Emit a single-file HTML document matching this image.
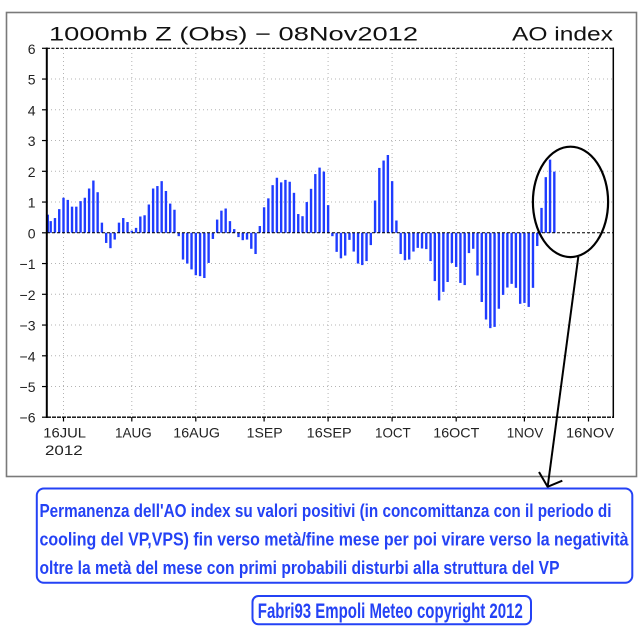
<!DOCTYPE html>
<html><head><meta charset="utf-8"><style>
html,body{margin:0;padding:0;background:#fff;}
svg{display:block;}
</style></head><body>
<svg width="640" height="631" viewBox="0 0 640 631" xmlns="http://www.w3.org/2000/svg">
<rect x="0" y="0" width="640" height="631" fill="#fff"/>
<!-- outer frame -->
<rect x="6.5" y="12.5" width="630" height="464" fill="none" stroke="#7a7a7a" stroke-width="1.6"/>

<!-- grid -->
<g stroke="#b4b4b4" stroke-width="1" stroke-dasharray="1,3" fill="none">
<line x1="47" y1="79.05" x2="613" y2="79.05"/>
<line x1="47" y1="109.8" x2="613" y2="109.8"/>
<line x1="47" y1="140.55" x2="613" y2="140.55"/>
<line x1="47" y1="171.3" x2="613" y2="171.3"/>
<line x1="47" y1="202.05" x2="613" y2="202.05"/>
<line x1="47" y1="263.55" x2="613" y2="263.55"/>
<line x1="47" y1="294.3" x2="613" y2="294.3"/>
<line x1="47" y1="325.05" x2="613" y2="325.05"/>
<line x1="47" y1="355.8" x2="613" y2="355.8"/>
<line x1="47" y1="386.55" x2="613" y2="386.55"/>
<line x1="63.5" y1="49" x2="63.5" y2="417"/>
<line x1="131.8" y1="49" x2="131.8" y2="417"/>
<line x1="195.8" y1="49" x2="195.8" y2="417"/>
<line x1="264.1" y1="49" x2="264.1" y2="417"/>
<line x1="328.1" y1="49" x2="328.1" y2="417"/>
<line x1="392.1" y1="49" x2="392.1" y2="417"/>
<line x1="456.2" y1="49" x2="456.2" y2="417"/>
<line x1="524.4" y1="49" x2="524.4" y2="417"/>
<line x1="588.5" y1="49" x2="588.5" y2="417"/>
</g>

<!-- bars -->
<g transform="translate(63.5,232.8) scale(4.268,-30.75)" fill="#1f3cff">
<rect x="-3.9" y="0" width="0.5" height="0.59"/>
<rect x="-3.28" y="0" width="0.56" height="0.38"/>
<rect x="-2.28" y="0" width="0.56" height="0.48"/>
<rect x="-1.28" y="0" width="0.56" height="0.77"/>
<rect x="-0.28" y="0" width="0.56" height="1.14"/>
<rect x="0.72" y="0" width="0.56" height="1.07"/>
<rect x="1.72" y="0" width="0.56" height="0.85"/>
<rect x="2.72" y="0" width="0.56" height="0.85"/>
<rect x="3.72" y="0" width="0.56" height="1.03"/>
<rect x="4.72" y="0" width="0.56" height="1.14"/>
<rect x="5.72" y="0" width="0.56" height="1.44"/>
<rect x="6.72" y="0" width="0.56" height="1.70"/>
<rect x="7.72" y="0" width="0.56" height="1.32"/>
<rect x="8.72" y="0" width="0.56" height="0.33"/>
<rect x="9.72" y="-0.33" width="0.56" height="0.33"/>
<rect x="10.72" y="-0.50" width="0.56" height="0.50"/>
<rect x="11.72" y="-0.22" width="0.56" height="0.22"/>
<rect x="12.72" y="0" width="0.56" height="0.33"/>
<rect x="13.72" y="0" width="0.56" height="0.48"/>
<rect x="14.72" y="0" width="0.56" height="0.35"/>
<rect x="15.72" y="0" width="0.56" height="0.07"/>
<rect x="16.72" y="0" width="0.56" height="0.16"/>
<rect x="17.72" y="0" width="0.56" height="0.53"/>
<rect x="18.72" y="0" width="0.56" height="0.57"/>
<rect x="19.72" y="0" width="0.56" height="0.92"/>
<rect x="20.72" y="0" width="0.56" height="1.44"/>
<rect x="21.72" y="0" width="0.56" height="1.52"/>
<rect x="22.72" y="0" width="0.56" height="1.68"/>
<rect x="23.72" y="0" width="0.56" height="1.36"/>
<rect x="24.72" y="0" width="0.56" height="0.95"/>
<rect x="25.72" y="0" width="0.56" height="0.75"/>
<rect x="26.72" y="-0.11" width="0.56" height="0.11"/>
<rect x="27.72" y="-0.87" width="0.56" height="0.87"/>
<rect x="28.72" y="-1.00" width="0.56" height="1.00"/>
<rect x="29.72" y="-1.19" width="0.56" height="1.19"/>
<rect x="30.72" y="-1.38" width="0.56" height="1.38"/>
<rect x="31.72" y="-1.41" width="0.56" height="1.41"/>
<rect x="32.72" y="-1.47" width="0.56" height="1.47"/>
<rect x="33.72" y="-0.98" width="0.56" height="0.98"/>
<rect x="34.72" y="-0.20" width="0.56" height="0.20"/>
<rect x="35.72" y="0" width="0.56" height="0.43"/>
<rect x="36.72" y="0" width="0.56" height="0.72"/>
<rect x="37.72" y="0" width="0.56" height="0.79"/>
<rect x="38.72" y="0" width="0.56" height="0.38"/>
<rect x="39.72" y="0" width="0.56" height="0.12"/>
<rect x="40.72" y="-0.14" width="0.56" height="0.14"/>
<rect x="41.72" y="-0.24" width="0.56" height="0.24"/>
<rect x="42.72" y="-0.22" width="0.56" height="0.22"/>
<rect x="43.72" y="-0.52" width="0.56" height="0.52"/>
<rect x="44.72" y="-0.69" width="0.56" height="0.69"/>
<rect x="45.72" y="0" width="0.56" height="0.22"/>
<rect x="46.72" y="0" width="0.56" height="0.83"/>
<rect x="47.72" y="0" width="0.56" height="1.12"/>
<rect x="48.72" y="0" width="0.56" height="1.55"/>
<rect x="49.72" y="0" width="0.56" height="1.79"/>
<rect x="50.72" y="0" width="0.56" height="1.64"/>
<rect x="51.72" y="0" width="0.56" height="1.72"/>
<rect x="52.72" y="0" width="0.56" height="1.66"/>
<rect x="53.72" y="0" width="0.56" height="1.30"/>
<rect x="54.72" y="0" width="0.56" height="0.61"/>
<rect x="55.72" y="0" width="0.56" height="0.54"/>
<rect x="56.72" y="0" width="0.56" height="1.00"/>
<rect x="57.72" y="0" width="0.56" height="1.43"/>
<rect x="58.72" y="0" width="0.56" height="1.91"/>
<rect x="59.72" y="0" width="0.56" height="2.12"/>
<rect x="60.72" y="0" width="0.56" height="1.99"/>
<rect x="61.72" y="0" width="0.56" height="0.90"/>
<rect x="62.72" y="-0.11" width="0.56" height="0.11"/>
<rect x="63.72" y="-0.62" width="0.56" height="0.62"/>
<rect x="64.72" y="-0.83" width="0.56" height="0.83"/>
<rect x="65.72" y="-0.74" width="0.56" height="0.74"/>
<rect x="66.72" y="-0.23" width="0.56" height="0.23"/>
<rect x="67.72" y="-0.61" width="0.56" height="0.61"/>
<rect x="68.72" y="-1.00" width="0.56" height="1.00"/>
<rect x="69.72" y="-1.05" width="0.56" height="1.05"/>
<rect x="70.72" y="-0.92" width="0.56" height="0.92"/>
<rect x="71.72" y="-0.40" width="0.56" height="0.40"/>
<rect x="72.72" y="0" width="0.56" height="1.05"/>
<rect x="73.72" y="0" width="0.56" height="2.11"/>
<rect x="74.72" y="0" width="0.56" height="2.35"/>
<rect x="75.72" y="0" width="0.56" height="2.53"/>
<rect x="76.72" y="0" width="0.56" height="1.68"/>
<rect x="77.72" y="0" width="0.56" height="0.40"/>
<rect x="78.72" y="-0.69" width="0.56" height="0.69"/>
<rect x="79.72" y="-0.89" width="0.56" height="0.89"/>
<rect x="80.72" y="-0.87" width="0.56" height="0.87"/>
<rect x="81.72" y="-0.61" width="0.56" height="0.61"/>
<rect x="82.72" y="-0.49" width="0.56" height="0.49"/>
<rect x="83.72" y="-0.51" width="0.56" height="0.51"/>
<rect x="84.72" y="-0.53" width="0.56" height="0.53"/>
<rect x="85.72" y="-0.92" width="0.56" height="0.92"/>
<rect x="86.72" y="-1.57" width="0.56" height="1.57"/>
<rect x="87.72" y="-2.20" width="0.56" height="2.20"/>
<rect x="88.72" y="-1.92" width="0.56" height="1.92"/>
<rect x="89.72" y="-1.60" width="0.56" height="1.60"/>
<rect x="90.72" y="-0.98" width="0.56" height="0.98"/>
<rect x="91.72" y="-1.11" width="0.56" height="1.11"/>
<rect x="92.72" y="-1.63" width="0.56" height="1.63"/>
<rect x="93.72" y="-1.70" width="0.56" height="1.70"/>
<rect x="94.72" y="-0.66" width="0.56" height="0.66"/>
<rect x="95.72" y="-0.52" width="0.56" height="0.52"/>
<rect x="96.72" y="-1.39" width="0.56" height="1.39"/>
<rect x="97.72" y="-2.25" width="0.56" height="2.25"/>
<rect x="98.72" y="-2.82" width="0.56" height="2.82"/>
<rect x="99.72" y="-3.10" width="0.56" height="3.10"/>
<rect x="100.72" y="-3.06" width="0.56" height="3.06"/>
<rect x="101.72" y="-2.47" width="0.56" height="2.47"/>
<rect x="102.72" y="-2.02" width="0.56" height="2.02"/>
<rect x="103.72" y="-1.78" width="0.56" height="1.78"/>
<rect x="104.72" y="-1.66" width="0.56" height="1.66"/>
<rect x="105.72" y="-1.79" width="0.56" height="1.79"/>
<rect x="106.72" y="-2.31" width="0.56" height="2.31"/>
<rect x="107.72" y="-2.28" width="0.56" height="2.28"/>
<rect x="108.72" y="-2.41" width="0.56" height="2.41"/>
<rect x="109.72" y="-1.79" width="0.56" height="1.79"/>
<rect x="110.72" y="-0.43" width="0.56" height="0.43"/>
<rect x="111.72" y="0" width="0.56" height="0.81"/>
<rect x="112.72" y="0" width="0.56" height="1.81"/>
<rect x="113.72" y="0" width="0.56" height="2.38"/>
<rect x="114.72" y="0" width="0.56" height="1.99"/>
</g>

<!-- axes / borders -->
<line x1="47" y1="232.8" x2="613" y2="232.8" stroke="#000" stroke-width="1" stroke-dasharray="3,2"/>
<line x1="47" y1="48.3" x2="613" y2="48.3" stroke="#000" stroke-width="1.2" stroke-dasharray="3,1.5"/>
<line x1="47" y1="417.2" x2="613" y2="417.2" stroke="#000" stroke-width="1.3" stroke-dasharray="4,1"/>
<line x1="46.8" y1="47.5" x2="46.8" y2="418" stroke="#000" stroke-width="2"/>
<line x1="613.3" y1="47.5" x2="613.3" y2="418" stroke="#000" stroke-width="1.5"/>
<g stroke="#000" stroke-width="1.2">
<line x1="42" y1="48.3" x2="47" y2="48.3"/>
<line x1="42" y1="79.05" x2="47" y2="79.05"/>
<line x1="42" y1="109.8" x2="47" y2="109.8"/>
<line x1="42" y1="140.55" x2="47" y2="140.55"/>
<line x1="42" y1="171.3" x2="47" y2="171.3"/>
<line x1="42" y1="202.05" x2="47" y2="202.05"/>
<line x1="42" y1="232.8" x2="47" y2="232.8"/>
<line x1="42" y1="263.55" x2="47" y2="263.55"/>
<line x1="42" y1="294.3" x2="47" y2="294.3"/>
<line x1="42" y1="325.05" x2="47" y2="325.05"/>
<line x1="42" y1="355.8" x2="47" y2="355.8"/>
<line x1="42" y1="386.55" x2="47" y2="386.55"/>
<line x1="42" y1="417.2" x2="47" y2="417.2"/>
<line x1="63.5" y1="417" x2="63.5" y2="421.5"/>
<line x1="131.8" y1="417" x2="131.8" y2="421.5"/>
<line x1="195.8" y1="417" x2="195.8" y2="421.5"/>
<line x1="264.1" y1="417" x2="264.1" y2="421.5"/>
<line x1="328.1" y1="417" x2="328.1" y2="421.5"/>
<line x1="392.1" y1="417" x2="392.1" y2="421.5"/>
<line x1="456.2" y1="417" x2="456.2" y2="421.5"/>
<line x1="524.4" y1="417" x2="524.4" y2="421.5"/>
<line x1="588.5" y1="417" x2="588.5" y2="421.5"/>
</g>

<!-- y labels -->
<g font-family="Liberation Sans, sans-serif" font-size="14" fill="#222" text-anchor="end">
<text x="35.5" y="53.8">6</text>
<text x="35.5" y="84.5">5</text>
<text x="35.5" y="115.3">4</text>
<text x="35.5" y="146">3</text>
<text x="35.5" y="176.8">2</text>
<text x="35.5" y="207.5">1</text>
<text x="35.5" y="238.3">0</text>
<text x="35.5" y="269">−1</text>
<text x="35.5" y="299.8">−2</text>
<text x="35.5" y="330.5">−3</text>
<text x="35.5" y="361.3">−4</text>
<text x="35.5" y="392">−5</text>
<text x="35.5" y="422.7">−6</text>
</g>

<!-- x labels -->
<g font-family="Liberation Sans, sans-serif" font-size="14" fill="#222" lengthAdjust="spacingAndGlyphs">
<text x="43.3" y="437.3" textLength="42.7" lengthAdjust="spacingAndGlyphs">16JUL</text>
<text x="45" y="455" textLength="37.7" lengthAdjust="spacingAndGlyphs">2012</text>
<text x="115" y="437.3" textLength="36.7" lengthAdjust="spacingAndGlyphs">1AUG</text>
<text x="173.3" y="437.3" textLength="46.7" lengthAdjust="spacingAndGlyphs">16AUG</text>
<text x="246.7" y="437.3" textLength="36" lengthAdjust="spacingAndGlyphs">1SEP</text>
<text x="306.7" y="437.3" textLength="45" lengthAdjust="spacingAndGlyphs">16SEP</text>
<text x="375" y="437.3" textLength="35.7" lengthAdjust="spacingAndGlyphs">1OCT</text>
<text x="433.3" y="437.3" textLength="46" lengthAdjust="spacingAndGlyphs">16OCT</text>
<text x="506.7" y="437.3" textLength="36.6" lengthAdjust="spacingAndGlyphs">1NOV</text>
<text x="566" y="437.3" textLength="48" lengthAdjust="spacingAndGlyphs">16NOV</text>
</g>

<!-- title -->
<g font-family="Liberation Sans, sans-serif" font-size="19.5" fill="#111">
<text x="49" y="40.7" textLength="369" lengthAdjust="spacingAndGlyphs">1000mb Z (Obs) − 08Nov2012</text>
<text x="512" y="40.7" textLength="101" lengthAdjust="spacingAndGlyphs">AO index</text>
</g>

<!-- ellipse and arrow -->
<ellipse cx="570.5" cy="201.9" rx="37.6" ry="55.2" fill="none" stroke="#000" stroke-width="2.2"/>
<line x1="578.3" y1="256.7" x2="547.7" y2="486.5" stroke="#000" stroke-width="2"/>
<polyline points="539,472 547.6,486.8 562.3,480.7" fill="none" stroke="#000" stroke-width="2"/>

<!-- annotation box -->
<rect x="36.8" y="488.5" width="595.5" height="94.2" rx="7" ry="7" fill="#fff" stroke="#2442f5" stroke-width="2"/>
<g font-family="Liberation Sans, sans-serif" font-weight="bold" font-size="18" fill="#2442f5">
<text x="39.5" y="517.2" textLength="572" lengthAdjust="spacingAndGlyphs">Permanenza dell'AO index su valori positivi (in concomittanza con il periodo di</text>
<text x="39.5" y="545.6" textLength="589" lengthAdjust="spacingAndGlyphs">cooling del VP,VPS) fin verso metà/fine mese  per poi virare verso la negatività</text>
<text x="39.5" y="574" textLength="520" lengthAdjust="spacingAndGlyphs">oltre la metà del mese con primi probabili disturbi alla struttura del VP</text>
</g>
<rect x="252.5" y="596" width="278.5" height="28.3" rx="6" ry="6" fill="#fff" stroke="#2442f5" stroke-width="2"/>
<text x="257.8" y="618" font-family="Liberation Sans, sans-serif" font-weight="bold" font-size="21" fill="#2442f5" textLength="265" lengthAdjust="spacingAndGlyphs">Fabri93 Empoli Meteo copyright 2012</text>
</svg>
</body></html>
